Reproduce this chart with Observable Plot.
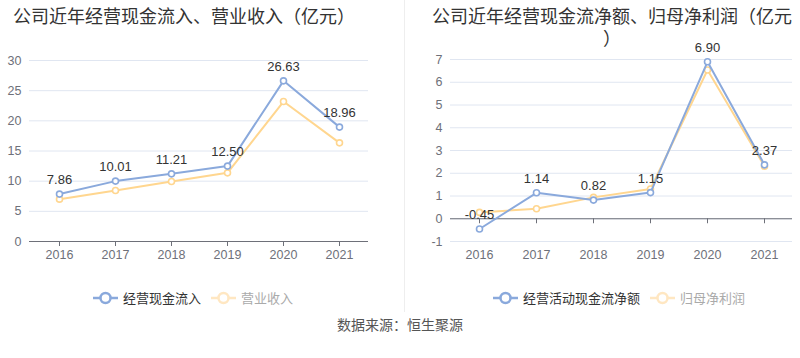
<!DOCTYPE html>
<html>
<head>
<meta charset="utf-8">
<script src="https://cdn.jsdelivr.net/npm/d3@7"></script>
<script src="https://cdn.jsdelivr.net/npm/@observablehq/plot@0.6"></script>
<style>
  html, body { margin: 0; padding: 0; background: #fff; }
  #root { position: relative; width: 800px; height: 358px; overflow: hidden;
    font-family: "Liberation Sans", "Noto Sans CJK SC", sans-serif; }
  .title { position: absolute; font-size: 18px; color: #333; text-align: center; line-height: 22px;
    font-family: "Noto Sans CJK SC", sans-serif; white-space: nowrap; }
  .panel { position: absolute; top: 40px; }
  .legend { position: absolute; top: 288px; display: flex; align-items: center; font-size: 13px;
    font-family: "Noto Sans CJK SC", sans-serif; }
  .legend .item { display: flex; align-items: center; margin-right: 10px; }
  .legend svg { margin-right: 5px; }
  .divider { position: absolute; left: 404px; top: 0; width: 1px; height: 312px; background: #eeeeee; }
  .source { position: absolute; top: 314px; left: 0; width: 800px; text-align: center; font-size: 14px;
    color: #555; font-family: "Noto Sans CJK SC", sans-serif; }
</style>
</head>
<body>
<div id="root">
  <div class="title" style="left:4px; width:360px; top:4px;">公司近年经营现金流入、营业收入（亿元）</div>
  <div class="title" style="left:422px; width:380px; top:4px;">公司近年经营现金流净额、归母净利润（亿元<br>）</div>
  <div class="divider"></div>
  <div class="panel" id="left" style="left:0px;"></div>
  <div class="panel" id="right" style="left:400px;"></div>
  <div class="legend" id="legL" style="left:93px;"></div>
  <div class="legend" id="legR" style="left:493px;"></div>
  <div class="source">数据来源：恒生聚源</div>
</div>
<script>
const years = ["2016", "2017", "2018", "2019", "2020", "2021"];
const cashInflow = [7.86, 10.01, 11.21, 12.50, 26.63, 18.96];
const revenue = [7.02, 8.45, 9.94, 11.38, 23.2, 16.35];
const netCashFlow = [-0.45, 1.14, 0.82, 1.15, 6.90, 2.37];
const netProfit = [0.28, 0.44, 0.94, 1.31, 6.54, 2.31];
const leftTicks = [0, 5, 10, 15, 20, 25, 30];
const rightTicks = [-1, 0, 1, 2, 3, 4, 5, 6, 7];
const seriesLeft = ["经营现金流入", "营业收入"];
const seriesRight = ["经营活动现金流净额", "归母净利润"];

const BLUE = "#8aa9dc";
const ORANGE = "#ffd68f";
const AXIS = "#6e7079";
const GRID = "#e0e6f1";

function rows(vals) { return years.map((y, i) => ({year: y, value: vals[i]})); }

function lineMarks(data, color) {
  return [
    Plot.line(data, {x: "year", y: "value", stroke: color, strokeWidth: 2}),
    Plot.dot(data, {x: "year", y: "value", r: 3, fill: "#fff", stroke: color, strokeWidth: 1.6})
  ];
}

function chart(opts) {
  const {primary, secondary, domain, ticks, marginLeft, marginRight, marginTop, zeroTicks} = opts;
  const p = rows(primary), s = rows(secondary);
  const marks = [
    Plot.gridY(ticks, {stroke: GRID, strokeOpacity: 1}),
    Plot.axisY(ticks, {tickSize: 0, tickPadding: 8, fontSize: 12.5, color: "#6e7079", tickFormat: d => String(d)}),
    Plot.axisX({tickSize: zeroTicks ? 0 : 5, tickPadding: zeroTicks ? 9 : 4, fontSize: 12.5, color: "#6e7079", stroke: AXIS}),
    Plot.ruleY([0], {stroke: AXIS, strokeWidth: 1})
  ];
  if (zeroTicks) {
    marks.push(Plot.ruleX(years, {x: d => d, y1: 0, y2: -0.22, stroke: AXIS}));
  }
  marks.push(...lineMarks(s, ORANGE), ...lineMarks(p, BLUE));
  marks.push(Plot.text(p, {x: "year", y: "value", text: d => d.value.toFixed(2), dy: -14, fontSize: 13, fill: "#333"}));
  return Plot.plot({
    width: 400, height: 230,
    marginLeft, marginRight, marginTop, marginBottom: 29,
    x: {type: "point", domain: years, padding: 0.5, label: null},
    y: {domain, label: null},
    style: {fontFamily: "'Liberation Sans', 'Noto Sans CJK SC', sans-serif", background: "transparent", overflow: "visible"},
    marks
  });
}

document.getElementById("left").append(chart({
  primary: cashInflow, secondary: revenue, domain: [0, 30], ticks: leftTicks,
  marginLeft: 29, marginRight: 32, marginTop: 20, zeroTicks: false
}));
document.getElementById("right").append(chart({
  primary: netCashFlow, secondary: netProfit, domain: [-1, 7], ticks: rightTicks,
  marginLeft: 50, marginRight: 8, marginTop: 19, zeroTicks: true
}));

function legend(el, names) {
  const textColors = ["#333", "#aaa"];
  const iconColors = [BLUE, "#ffe7c2"];
  names.forEach((n, i) => {
    const item = document.createElement("div");
    item.className = "item";
    item.innerHTML = `<svg width="25" height="14"><line x1="0" y1="7" x2="25" y2="7" stroke="${iconColors[i]}" stroke-width="2.5"/><circle cx="12.5" cy="7" r="5" fill="#fff" stroke="${iconColors[i]}" stroke-width="2.5"/></svg><span style="color:${textColors[i]}">${n}</span>`;
    el.append(item);
  });
}
legend(document.getElementById("legL"), seriesLeft);
legend(document.getElementById("legR"), seriesRight);
</script>
</body>
</html>
